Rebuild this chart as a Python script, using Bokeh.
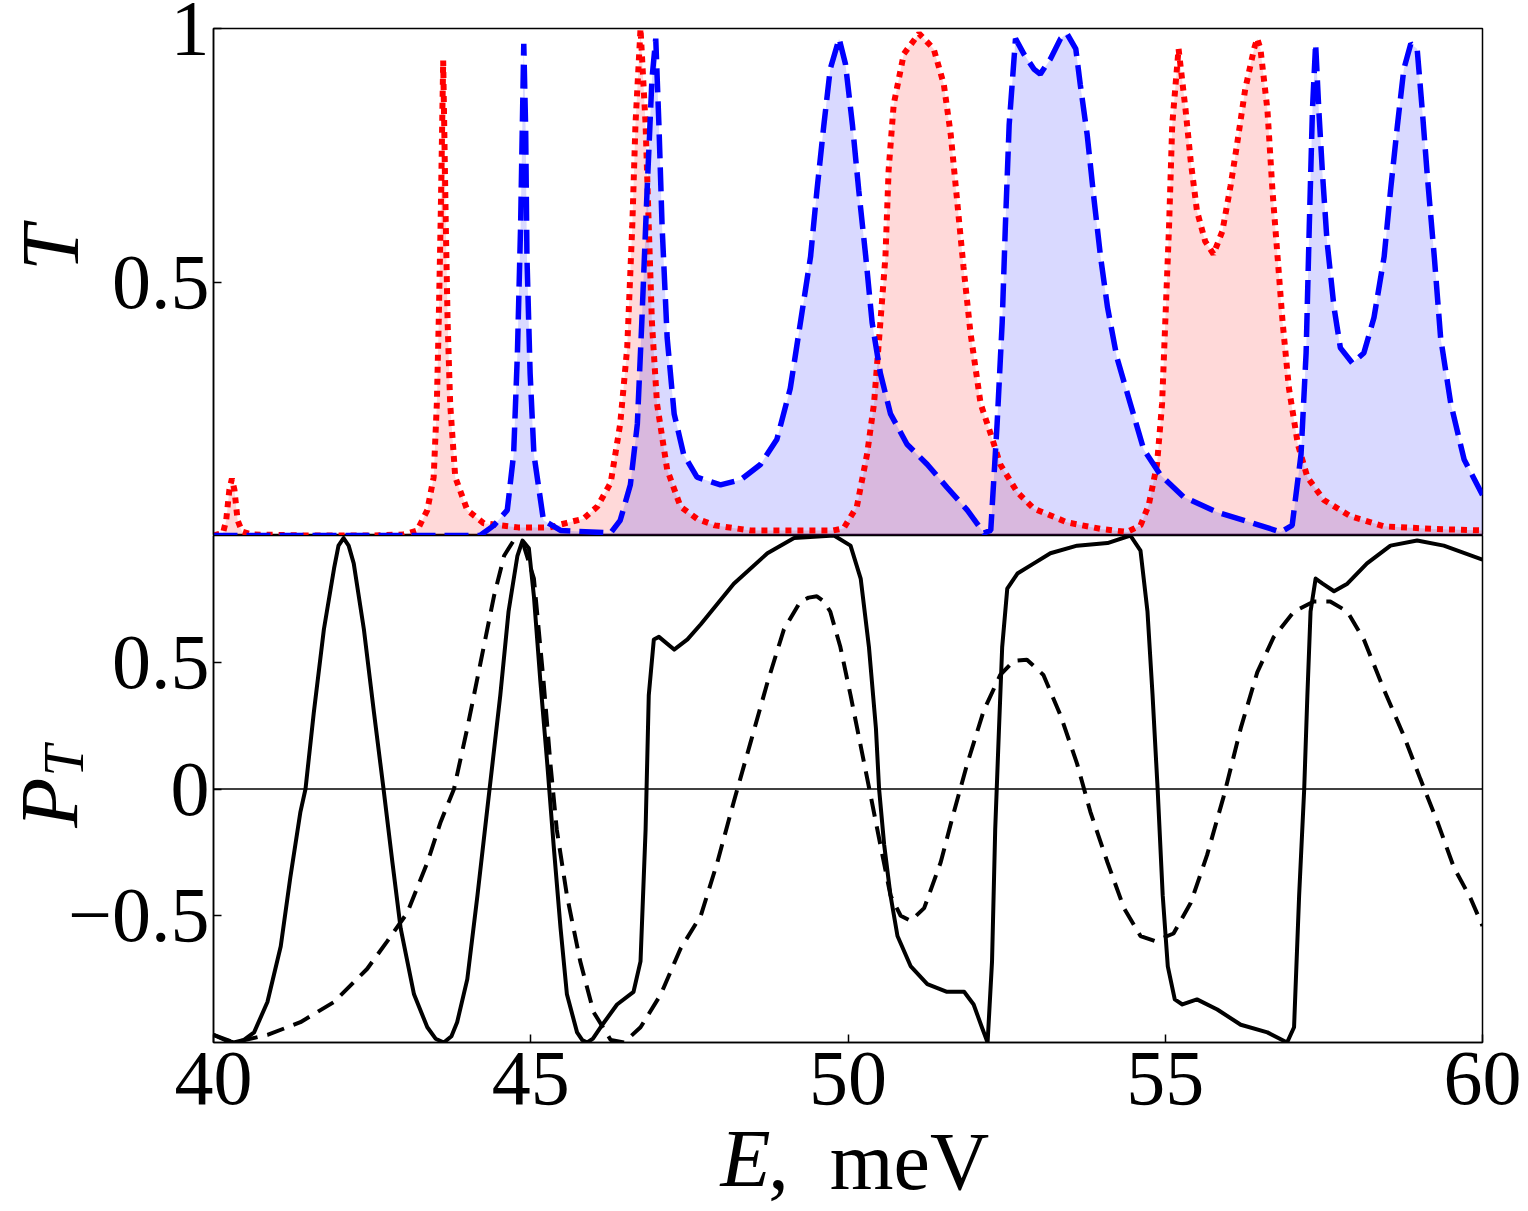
from bokeh.plotting import figure
from bokeh.models import Range1d, FixedTicker, Span, LinearAxis
from bokeh.layouts import column
from bokeh.embed import file_html
from bokeh.resources import INLINE

# ---------------- data ----------------
# top panel: transmission T(E)
red_points = [
    (40.0, 0.0), (40.15, 0.005), (40.2, 0.03), (40.25, 0.09), (40.29, 0.112), (40.33, 0.09),
    (40.38, 0.03), (40.45, 0.008), (40.6, 0.002), (41.5, 0.0), (42.5, 0.0), (43.0, 0.002),
    (43.21, 0.01), (43.37, 0.05), (43.47, 0.115), (43.52, 0.26), (43.55, 0.424), (43.58, 0.62),
    (43.62, 0.937), (43.66, 0.62), (43.69, 0.42), (43.73, 0.26), (43.81, 0.115), (44.0, 0.05),
    (44.26, 0.024), (44.8, 0.016), (45.3, 0.016), (45.57, 0.025), (45.83, 0.033), (46.05, 0.057),
    (46.26, 0.104), (46.41, 0.22), (46.52, 0.37), (46.6, 0.61), (46.65, 0.81), (46.73, 1.0),
    (46.81, 0.81), (46.86, 0.61), (46.91, 0.42), (46.99, 0.26), (47.15, 0.13), (47.36, 0.057),
    (47.62, 0.033), (47.9, 0.02), (48.46, 0.01), (49.77, 0.01), (49.93, 0.014), (50.14, 0.057),
    (50.3, 0.16), (50.41, 0.26), (50.51, 0.42), (50.59, 0.55), (50.64, 0.72), (50.72, 0.85),
    (50.88, 0.95), (51.12, 0.99), (51.35, 0.96), (51.51, 0.89), (51.62, 0.79), (51.72, 0.66),
    (51.82, 0.53), (51.93, 0.40), (52.09, 0.26), (52.25, 0.2), (52.4, 0.14), (52.67, 0.085),
    (52.93, 0.053), (53.45, 0.026), (53.98, 0.013), (54.4, 0.007), (54.61, 0.02), (54.74, 0.06),
    (54.87, 0.14), (54.95, 0.26), (55.0, 0.42), (55.06, 0.61), (55.11, 0.81), (55.21, 0.96),
    (55.32, 0.84), (55.4, 0.74), (55.5, 0.64), (55.63, 0.58), (55.76, 0.555), (55.9, 0.60),
    (56.03, 0.69), (56.13, 0.77), (56.26, 0.88), (56.4, 0.96), (56.45, 0.98), (56.5, 0.96),
    (56.61, 0.84), (56.69, 0.68), (56.77, 0.55), (56.85, 0.42), (56.95, 0.29), (57.09, 0.18),
    (57.24, 0.115), (57.5, 0.07), (57.92, 0.038), (58.45, 0.018), (59.23, 0.013), (60.0, 0.01),
]
blue_points = [
    (40.0, 0.0), (44.2, 0.0), (44.42, 0.02), (44.63, 0.05), (44.73, 0.16), (44.79, 0.36),
    (44.84, 0.61), (44.89, 0.97), (44.92, 0.8), (44.94, 0.55), (44.99, 0.32), (45.05, 0.16),
    (45.2, 0.03), (45.47, 0.01), (46.26, 0.005), (46.41, 0.03), (46.57, 0.1), (46.68, 0.22),
    (46.75, 0.42), (46.83, 0.67), (46.91, 0.9), (46.97, 0.98), (47.02, 0.81), (47.07, 0.61),
    (47.15, 0.39), (47.26, 0.24), (47.41, 0.16), (47.62, 0.115), (47.99, 0.1), (48.31, 0.11),
    (48.62, 0.14), (48.88, 0.19), (49.09, 0.29), (49.25, 0.42), (49.41, 0.55), (49.51, 0.68),
    (49.62, 0.81), (49.72, 0.92), (49.86, 0.98), (49.96, 0.93), (50.07, 0.81), (50.17, 0.68),
    (50.28, 0.55), (50.38, 0.42), (50.51, 0.32), (50.67, 0.24), (50.93, 0.18), (51.25, 0.14),
    (51.56, 0.095), (51.88, 0.05), (52.14, 0.005), (52.25, 0.01), (52.35, 0.22), (52.43, 0.42),
    (52.48, 0.61), (52.54, 0.81), (52.64, 0.98), (52.77, 0.95), (52.93, 0.92), (53.03, 0.91),
    (53.19, 0.94), (53.35, 0.98), (53.45, 0.99), (53.59, 0.96), (53.66, 0.89), (53.77, 0.79),
    (53.88, 0.66), (53.98, 0.55), (54.09, 0.45), (54.24, 0.35), (54.45, 0.26), (54.66, 0.17),
    (54.92, 0.12), (55.29, 0.076), (55.82, 0.046), (56.34, 0.026), (56.82, 0.007), (57.0, 0.02),
    (57.14, 0.16), (57.22, 0.36), (57.27, 0.61), (57.32, 0.84), (57.37, 0.97), (57.42, 0.84),
    (57.48, 0.71), (57.55, 0.58), (57.66, 0.45), (57.76, 0.37), (57.95, 0.34), (58.13, 0.36),
    (58.29, 0.43), (58.45, 0.55), (58.55, 0.68), (58.66, 0.81), (58.76, 0.92), (58.87, 0.97),
    (58.97, 0.96), (59.05, 0.84), (59.13, 0.71), (59.24, 0.55), (59.34, 0.39), (59.5, 0.26),
    (59.71, 0.15), (60.0, 0.08),
]
# bottom panel: polarization P_T(E)
solid_points = [
    (40.0, -0.97), (40.18, -0.99), (40.32, -1.0), (40.48, -0.99), (40.64, -0.96), (40.85, -0.84),
    (41.06, -0.62), (41.21, -0.35), (41.37, -0.09), (41.45, 0.0), (41.58, 0.30), (41.74, 0.63),
    (41.9, 0.87), (41.97, 0.96), (42.05, 0.99), (42.13, 0.96), (42.21, 0.89), (42.37, 0.63),
    (42.53, 0.30), (42.68, 0.0), (42.82, -0.29), (42.95, -0.55), (43.16, -0.81), (43.37, -0.94),
    (43.5, -0.985), (43.63, -1.0), (43.75, -0.975), (43.84, -0.92), (44.0, -0.75), (44.16, -0.42),
    (44.31, -0.09), (44.52, 0.37), (44.65, 0.70), (44.79, 0.92), (44.87, 0.98), (44.97, 0.95),
    (45.05, 0.76), (45.15, 0.43), (45.26, 0.1), (45.36, -0.22), (45.47, -0.55), (45.57, -0.81),
    (45.73, -0.96), (45.81, -0.99), (45.89, -1.0), (45.98, -0.985), (46.1, -0.94), (46.36, -0.85),
    (46.62, -0.8), (46.73, -0.68), (46.81, -0.16), (46.86, 0.37), (46.94, 0.59), (47.02, 0.60),
    (47.26, 0.55), (47.47, 0.59), (47.68, 0.65), (48.2, 0.81), (48.73, 0.93), (49.15, 0.99),
    (49.78, 1.0), (50.04, 0.96), (50.2, 0.83), (50.33, 0.56), (50.44, 0.24), (50.49, 0.0),
    (50.57, -0.22), (50.67, -0.42), (50.78, -0.58), (50.99, -0.70), (51.25, -0.77), (51.56, -0.80),
    (51.83, -0.80), (51.98, -0.85), (52.11, -0.94), (52.2, -1.0), (52.27, -0.68), (52.32, -0.16),
    (52.38, 0.24), (52.43, 0.56), (52.51, 0.79), (52.67, 0.85), (52.93, 0.89), (53.19, 0.93),
    (53.61, 0.96), (54.09, 0.97), (54.45, 1.0), (54.61, 0.94), (54.72, 0.70), (54.8, 0.37),
    (54.88, 0.0), (54.96, -0.42), (55.04, -0.70), (55.15, -0.83), (55.27, -0.85), (55.5, -0.83),
    (55.82, -0.87), (56.19, -0.93), (56.61, -0.96), (56.92, -1.0), (57.03, -0.94), (57.11, -0.42),
    (57.19, 0.0), (57.24, 0.37), (57.29, 0.70), (57.37, 0.83), (57.48, 0.81), (57.66, 0.78),
    (57.87, 0.81), (58.18, 0.89), (58.55, 0.96), (58.97, 0.98), (59.39, 0.96), (60.0, 0.905),
]
dashed_points = [
    (40.0, -0.97), (40.32, -1.0), (40.85, -0.97), (41.37, -0.92), (41.9, -0.84), (42.42, -0.71),
    (42.74, -0.60), (43.05, -0.49), (43.37, -0.29), (43.58, -0.13), (43.79, 0.0), (44.0, 0.24),
    (44.21, 0.5), (44.42, 0.76), (44.58, 0.92), (44.73, 0.98), (44.89, 0.96), (45.05, 0.83),
    (45.2, 0.43), (45.31, 0.1), (45.41, -0.16), (45.57, -0.42), (45.78, -0.68), (45.99, -0.88),
    (46.26, -0.99), (46.47, -1.0), (46.73, -0.94), (47.05, -0.81), (47.36, -0.63), (47.68, -0.50),
    (47.94, -0.29), (48.2, -0.05), (48.46, 0.18), (48.73, 0.42), (48.99, 0.63), (49.25, 0.74),
    (49.38, 0.755), (49.51, 0.76), (49.62, 0.74), (49.72, 0.70), (49.88, 0.56), (50.04, 0.37),
    (50.2, 0.17), (50.36, -0.03), (50.51, -0.22), (50.67, -0.42), (50.83, -0.50), (50.99, -0.52),
    (51.2, -0.47), (51.46, -0.29), (51.67, -0.09), (51.88, 0.1), (52.14, 0.31), (52.4, 0.45),
    (52.61, 0.505), (52.82, 0.51), (53.08, 0.45), (53.35, 0.29), (53.61, 0.1), (53.82, -0.09),
    (54.09, -0.29), (54.35, -0.47), (54.61, -0.58), (54.84, -0.60), (55.13, -0.57), (55.4, -0.45),
    (55.66, -0.26), (55.92, -0.03), (56.19, 0.24), (56.45, 0.46), (56.71, 0.60), (57.03, 0.70),
    (57.34, 0.74), (57.6, 0.74), (57.87, 0.70), (58.13, 0.59), (58.45, 0.39), (58.76, 0.21),
    (59.02, 0.04), (59.29, -0.13), (59.55, -0.31), (59.81, -0.43), (60.0, -0.54),
]

E_red, T_red = [list(v) for v in zip(*red_points)]
E_blue, T_blue = [list(v) for v in zip(*blue_points)]
E_solid, P_solid = [list(v) for v in zip(*solid_points)]
E_dashed, P_dashed = [list(v) for v in zip(*dashed_points)]

x_ticks = [40, 45, 50, 55, 60]
top_y_ticks = [0.5, 1]
bottom_y_ticks = [-0.5, 0, 0.5]

FONT = "Liberation Serif"
TICK_SIZE = "78px"
LABEL_SIZE = "82px"
SUB_SIZE = "56px"

x_range = Range1d(40, 60)


def style(p):
    p.grid.visible = False
    p.outline_line_color = "black"
    p.outline_line_width = 1.5
    p.background_fill_color = "white"
    p.border_fill_color = "white"
    for ax in p.yaxis:
        ax.major_label_text_font = FONT
        ax.major_label_text_font_size = TICK_SIZE
        ax.major_label_text_color = "black"
        ax.major_tick_in = 8
        ax.major_tick_out = 0
        ax.minor_tick_in = 0
        ax.minor_tick_out = 0
        ax.axis_line_color = "black"
        ax.axis_line_width = 1.5
        ax.major_tick_line_width = 1.5
        ax.major_label_standoff = 4
        ax.axis_label_text_font = FONT
        ax.axis_label_text_color = "black"
        ax.axis_label_text_font_style = "italic"


def label_axis(text, size, standoff, style_="italic"):
    # axis without ticks that only carries a (part of a) label
    return LinearAxis(ticker=FixedTicker(ticks=[]), axis_line_color=None,
                      major_tick_line_color=None, minor_tick_line_color=None,
                      major_tick_out=0, major_tick_in=0, minor_tick_out=0, minor_tick_in=0,
                      major_label_text_font_size="0px", major_label_standoff=0,
                      axis_label=text, axis_label_text_font=FONT,
                      axis_label_text_font_size=size, axis_label_text_font_style=style_,
                      axis_label_text_color="black", axis_label_standoff=standoff)


top = figure(width=1524, height=535, x_range=x_range, y_range=Range1d(0, 1),
             output_backend="svg", toolbar_location=None, x_axis_location=None,
             min_border_left=213, min_border_right=42, min_border_top=28, min_border_bottom=0)
style(top)
top.yaxis.ticker = FixedTicker(ticks=top_y_ticks)
top.yaxis.major_label_overrides = {0.5: "0.5", 1: "1"}
top.yaxis.axis_label = "\u2002\u2004T"
top.yaxis.axis_label_text_font_size = LABEL_SIZE
top.yaxis.axis_label_standoff = 13

top.varea(x=E_red, y1=0, y2=T_red, fill_color="red", fill_alpha=0.15)
top.varea(x=E_blue, y1=0, y2=T_blue, fill_color="blue", fill_alpha=0.15)
top.line(E_red, T_red, line_color="red", line_width=6, line_dash="6 6")
top.line(E_blue, T_blue, line_color="blue", line_width=5.5, line_dash="24 9")

bot = figure(width=1524, height=675, x_range=x_range, y_range=Range1d(-1, 1),
             output_backend="svg", toolbar_location=None,
             min_border_left=213, min_border_right=42, min_border_top=0, min_border_bottom=168)
style(bot)
bot.yaxis.ticker = FixedTicker(ticks=bottom_y_ticks)
bot.yaxis.major_label_overrides = {-0.5: "\u22120.5", 0: "0", 0.5: "0.5"}
# subscript T of P_T (closest to the axis), then P further out
bot.yaxis.axis_label = "\u2002\u2002T"
bot.yaxis.axis_label_text_font_size = SUB_SIZE
bot.yaxis.axis_label_standoff = -30
bot.add_layout(label_axis("P\u2004", LABEL_SIZE, -64), "left")

bot.xaxis.ticker = FixedTicker(ticks=x_ticks)
xa = bot.xaxis[0]
xa.major_label_text_font = FONT
xa.major_label_text_font_size = TICK_SIZE
xa.major_label_text_color = "black"
xa.major_tick_in = 8
xa.major_tick_out = 0
xa.minor_tick_in = 0
xa.minor_tick_out = 0
xa.axis_line_width = 1.5
xa.major_tick_line_width = 1.5
xa.major_label_standoff = 10
xa.axis_label = "E\u2003\u2003\u2002"
xa.axis_label_text_font = FONT
xa.axis_label_text_font_size = LABEL_SIZE
xa.axis_label_text_font_style = "italic"
xa.axis_label_text_color = "black"
xa.axis_label_standoff = 6
bot.add_layout(label_axis("\u2002\u2005,\u2002meV", LABEL_SIZE, -91, "normal"), "below")

bot.add_layout(Span(location=0, dimension="width", line_color="black", line_width=1.5))
bot.line(E_dashed, P_dashed, line_color="black", line_width=4, line_dash="18 10")
bot.line(E_solid, P_solid, line_color="black", line_width=4, line_join="round")

layout = column(top, bot)
open("out.html", "w").write(file_html(layout, INLINE))
